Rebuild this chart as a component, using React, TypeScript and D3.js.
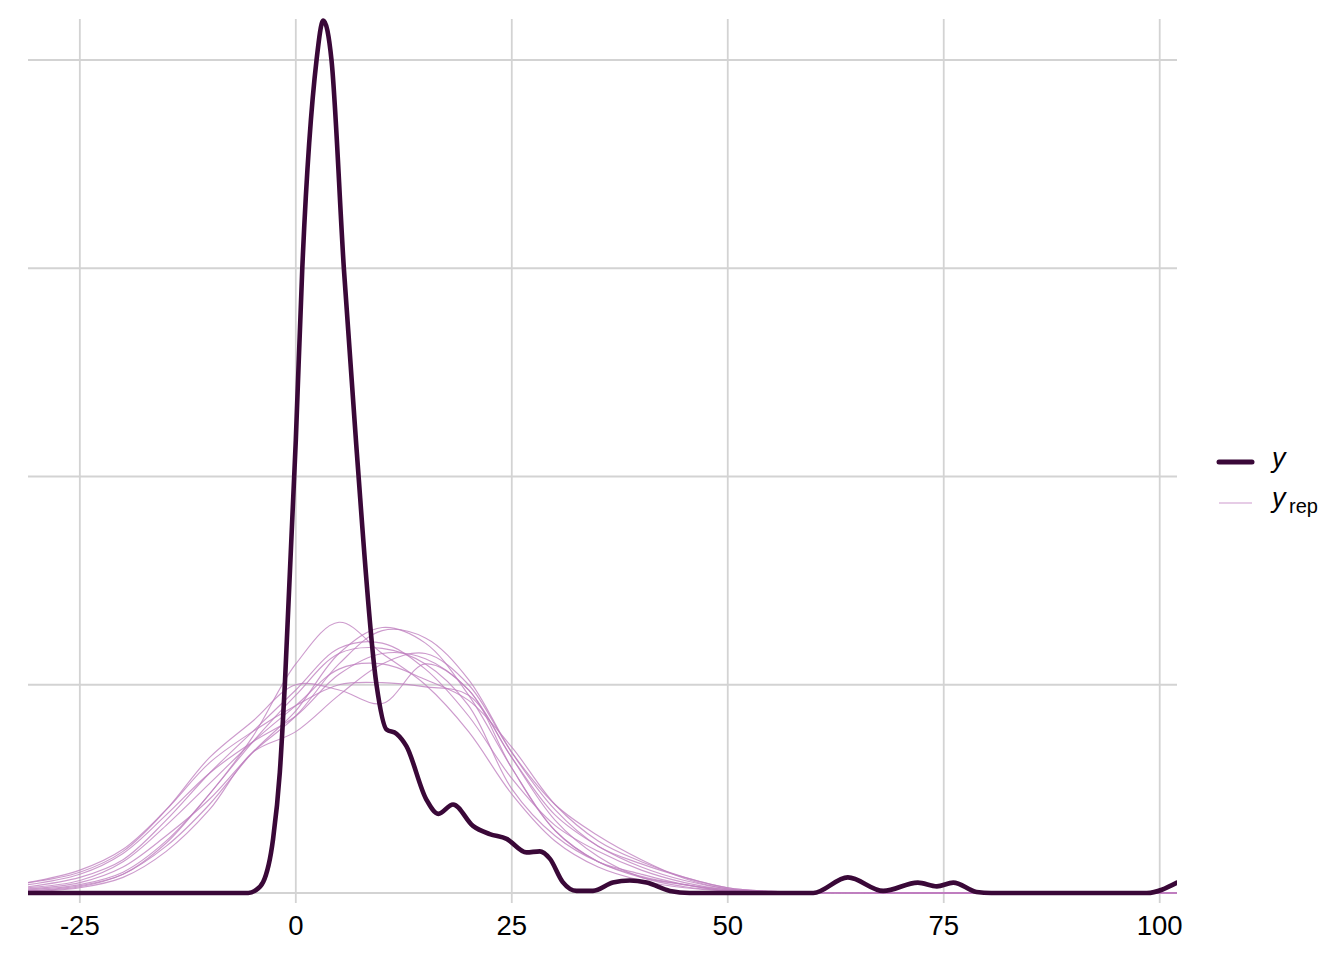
import React from "react";
import * as d3 from "d3";

// observed density (values in %)
const yX = [-31, -10, -5.5, -4.75, -3.78, -2.63, -1.85, -1.27, 0, 0.75, 2.4, 3.18, 4.13, 5.56, 7.0, 9.34, 10.5, 11.65, 12.8, 15.1, 16.5, 18.2, 20.5, 22.45, 24.4, 26.7, 28.24, 29.4, 30.9, 32.5, 34.4, 36.7, 38.66, 40.6, 43.3, 45.6, 59.9, 63.9, 68.0, 72.0, 74.2, 76.1, 78.8, 80.5, 98.5, 102];
const yD = [0, 0, 0, 0.02, 0.105, 0.52, 1.16, 2.0, 4.35, 6.0, 8.0, 8.38, 8.0, 6.0, 4.3, 2.0, 1.57, 1.53, 1.41, 0.9, 0.76, 0.85, 0.645, 0.566, 0.52, 0.39, 0.4, 0.33, 0.105, 0.02, 0.02, 0.1, 0.12, 0.1, 0.02, 0, 0, 0.15, 0.02, 0.1, 0.064, 0.1, 0.01, 0, 0, 0.1];

// replicated densities (values in %)
const repX = [-31, -25, -20, -15, -10, -5, 0, 5, 10, 15, 20, 25, 30, 35, 40, 45, 50, 55, 60, 70, 102];
const rep1 = [0.10, 0.22, 0.42, 0.80, 1.25, 1.55, 1.80, 2.00, 2.02, 1.98, 1.90, 1.30, 0.75, 0.45, 0.25, 0.12, 0.04, 0.01, 0.003, 0, 0];
const rep2 = [0.03, 0.08, 0.20, 0.50, 0.95, 1.50, 2.20, 2.60, 2.30, 2.00, 1.55, 0.95, 0.50, 0.25, 0.12, 0.05, 0.02, 0.01, 0.003, 0, 0];
const rep3 = [0.02, 0.06, 0.18, 0.45, 0.85, 1.35, 1.75, 2.30, 2.55, 2.40, 1.90, 1.20, 0.60, 0.30, 0.15, 0.08, 0.03, 0.01, 0.003, 0, 0];
const rep4 = [0.04, 0.10, 0.25, 0.55, 0.90, 1.35, 1.70, 2.20, 2.52, 2.45, 2.05, 1.35, 0.80, 0.45, 0.28, 0.15, 0.05, 0.015, 0.004, 0, 0];
const rep5 = [0.06, 0.15, 0.32, 0.70, 1.15, 1.55, 1.95, 2.35, 2.40, 2.15, 1.70, 1.10, 0.65, 0.40, 0.22, 0.10, 0.03, 0.01, 0.003, 0, 0];
const rep6 = [0.02, 0.07, 0.18, 0.48, 0.95, 1.45, 1.90, 2.30, 2.35, 2.20, 1.80, 1.00, 0.55, 0.30, 0.18, 0.08, 0.02, 0.01, 0.003, 0, 0];
const rep7 = [0.08, 0.18, 0.38, 0.75, 1.15, 1.45, 1.70, 2.10, 2.30, 2.25, 1.95, 1.30, 0.70, 0.35, 0.15, 0.06, 0.02, 0.01, 0.003, 0, 0];
const rep8 = [0.05, 0.12, 0.30, 0.65, 1.05, 1.45, 1.80, 2.15, 2.20, 2.05, 1.85, 1.40, 0.85, 0.50, 0.30, 0.15, 0.05, 0.015, 0.004, 0, 0];
const rep9 = [0.10, 0.20, 0.40, 0.80, 1.30, 1.65, 2.00, 1.95, 1.82, 2.20, 1.95, 1.20, 0.60, 0.30, 0.16, 0.08, 0.02, 0.01, 0.003, 0, 0];
const rep10 = [0.01, 0.05, 0.15, 0.40, 0.80, 1.35, 1.55, 1.90, 2.20, 2.30, 2.00, 1.35, 0.85, 0.55, 0.32, 0.14, 0.04, 0.015, 0.004, 0, 0];
const reps = [rep1, rep2, rep3, rep4, rep5, rep6, rep7, rep8, rep9, rep10];

const xTicks = [-25, 0, 25, 50, 75, 100];
const yGrid = [0, 2, 4, 6, 8];

export default function App() {
  const W = 1344, H = 960;
  const x = d3.scaleLinear().domain([-31, 102]).range([28, 1177]);
  const y = d3.scaleLinear().domain([0, 8.394]).range([893, 19]);
  const yLine = d3
    .line<[number, number]>()
    .x((d) => x(d[0]))
    .y((d) => y(d[1]))
    .curve(d3.curveMonotoneX);
  const repLine = d3
    .line<[number, number]>()
    .x((d) => x(d[0]))
    .y((d) => Math.min(y(d[1]), y(0)))
    .curve(d3.curveCatmullRom.alpha(0.5));
  const font = "'Liberation Sans', Arial, Helvetica, sans-serif";
  return (
    <svg width={W} height={H} style={{ position: "absolute", left: 0, top: 0, background: "#fff" }}>
      <defs>
        <clipPath id="plotclip">
          <rect x={28} y={0} width={1149} height={894} />
        </clipPath>
        <clipPath id="plotclip2">
          <rect x={28} y={0} width={1149} height={900} />
        </clipPath>
      </defs>
      {yGrid.map((g) => (
        <line key={"h" + g} x1={28} x2={1177} y1={y(g)} y2={y(g)} stroke="#d3d3d3" strokeWidth={1.8} />
      ))}
      {xTicks.map((t) => (
        <line key={"v" + t} x1={x(t)} x2={x(t)} y1={19} y2={903} stroke="#d3d3d3" strokeWidth={1.8} />
      ))}
      <g clipPath="url(#plotclip)">
        {reps.map((r, i) => (
          <path
            key={i}
            d={repLine(repX.map((v, j) => [v, r[j]] as [number, number])) || ""}
            fill="none"
            stroke="#bf7fbf"
            strokeOpacity={0.78}
            strokeWidth={1.15}
          />
        ))}
      </g>
      <g clipPath="url(#plotclip2)">
        <path
          d={yLine(yX.map((v, j) => [v, yD[j]] as [number, number])) || ""}
          fill="none"
          stroke="#3a0838"
          strokeWidth={4.6}
          strokeLinejoin="round"
          strokeLinecap="round"
        />
      </g>
      {xTicks.map((t) => (
        <text key={"t" + t} x={x(t)} y={935} textAnchor="middle" fontSize={27.5} fontFamily={font} fill="#000">
          {t}
        </text>
      ))}
      <line x1={1219} x2={1252} y1={462} y2={462} stroke="#3a0838" strokeWidth={5} strokeLinecap="round" />
      <text x={1272} y={467} fontSize={27} fontStyle="italic" fontFamily={font}>y</text>
      <line x1={1219} x2={1252} y1={503} y2={503} stroke="#bf7fbf" strokeOpacity={0.78} strokeWidth={1.15} />
      <text x={1272} y={507} fontSize={27} fontStyle="italic" fontFamily={font}>y</text>
      <text x={1289} y={513} fontSize={20} fontFamily={font}>rep</text>
    </svg>
  );
}
